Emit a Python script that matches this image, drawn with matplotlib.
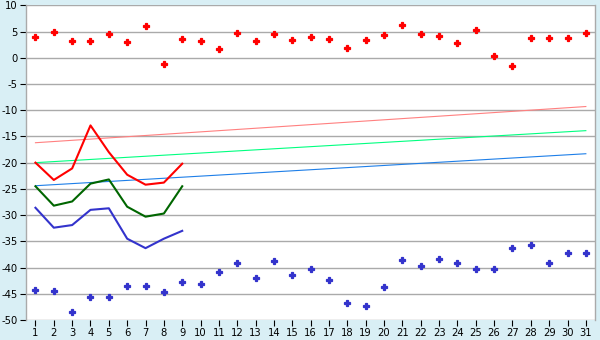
import numpy as np
import matplotlib
matplotlib.use("Agg")
import matplotlib.pyplot as plt

days = list(range(1, 32))

# daily maximum / minimum points
max_points = [4.0, 5.0, 3.2, 3.2, 4.6, 3.0, 6.1, -1.1, 3.6, 3.2,
              1.7, 4.8, 3.2, 4.6, 3.4, 4.0, 3.6, 1.9, 3.4, 4.4,
              6.3, 4.6, 4.2, 2.9, 5.2, 0.4, -1.5, 3.8, 3.8, 3.8, 4.8]
min_points = [-44.3, -44.5, -48.5, -45.6, -45.6, -43.5, -43.5, -44.7, -42.7, -43.1,
              -40.8, -39.1, -42.0, -38.7, -41.4, -40.3, -42.4, -46.8, -47.3, -43.7,
              -38.5, -39.7, -38.4, -39.1, -40.3, -40.3, -36.3, -35.7, -39.1, -37.2, -37.2]

# observed curves for first days
line_days = list(range(1, 10))
red_line = [-20.0, -23.3, -21.1, -12.9, -18.0, -22.3, -24.2, -23.8, -20.2]
green_line = [-24.5, -28.2, -27.4, -24.0, -23.2, -28.4, -30.3, -29.7, -24.5]
blue_line = [-28.6, -32.4, -31.9, -29.0, -28.7, -34.5, -36.3, -34.5, -33.0]

# normal (trend) lines: value at day 1 and day 31
trend_days = [1, 31]
red_trend = [-16.2, -9.3]
green_trend = [-20.0, -13.9]
blue_trend = [-24.4, -18.3]

bg = "#D9EFF5"
fig = plt.figure(figsize=(6, 3.4), dpi=100, facecolor=bg)
ax = fig.add_axes([0.0438, 0.0588, 0.9479, 0.9256])
ax.set_facecolor("white")

ax.plot(trend_days, red_trend, color="#FF8080", lw=0.8)
ax.plot(trend_days, green_trend, color="#00FF80", lw=0.8)
ax.plot(trend_days, blue_trend, color="#1E7FE8", lw=0.8)

ax.plot(line_days, red_line, color="#FF0000", lw=1.5)
ax.plot(line_days, green_line, color="#006600", lw=1.5)
ax.plot(line_days, blue_line, color="#3333CC", lw=1.5)

ax.plot(days, max_points, linestyle="none", marker="P", markersize=4.2,
        color="#FF0000", markeredgewidth=0.9)
ax.plot(days, min_points, linestyle="none", marker="P", markersize=4.2,
        color="#3333CC", markeredgewidth=0.9)

ax.set_xlim(0.5, 31.5)
ax.set_ylim(-50, 10)
ax.set_xticks(days)
ax.set_yticks(range(-50, 11, 5))
ax.set_yticklabels([str(v) for v in range(-50, 11, 5)])
ax.grid(axis="y", color="#AAAAAA", lw=1.0)
ax.set_axisbelow(True)

for side in ["top", "bottom"]:
    ax.spines[side].set_visible(False)
for side in ["left", "right"]:
    ax.spines[side].set_color("#AAAAAA")
    ax.spines[side].set_linewidth(1.0)

ax.tick_params(axis="both", length=4, width=0.8, color="black",
               labelsize=7.2, pad=2)

fig.savefig("out.png", dpi=100, facecolor=bg)
